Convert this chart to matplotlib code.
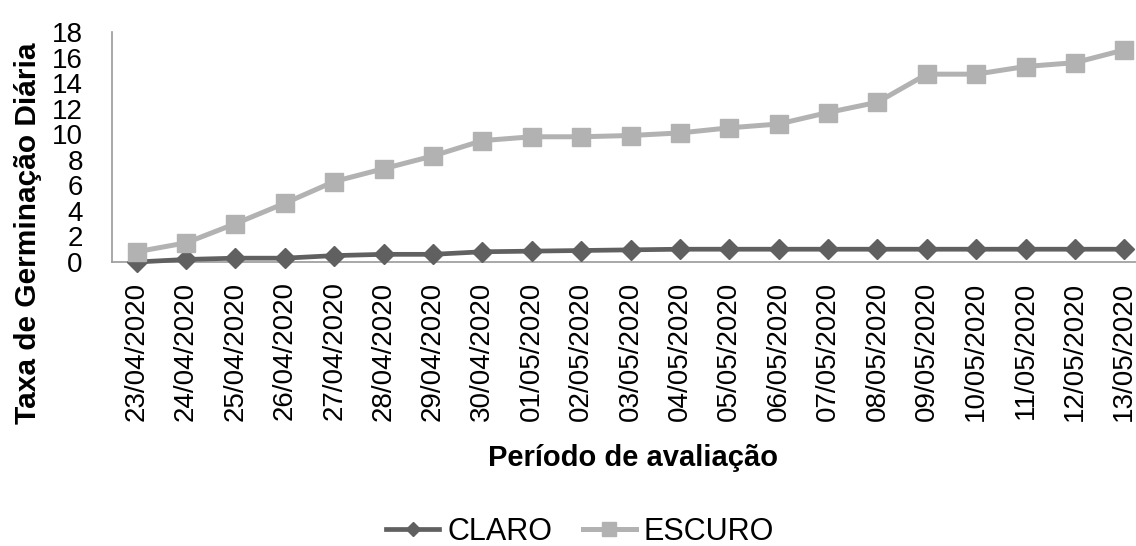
import matplotlib
matplotlib.use("Agg")
import matplotlib.pyplot as plt
from matplotlib.lines import Line2D

plt.rcParams['font.family'] = ['Liberation Sans', 'DejaVu Sans']

# Evaluation dates
datas = ["23/04/2020", "24/04/2020", "25/04/2020", "26/04/2020", "27/04/2020",
         "28/04/2020", "29/04/2020", "30/04/2020", "01/05/2020", "02/05/2020",
         "03/05/2020", "04/05/2020", "05/05/2020", "06/05/2020", "07/05/2020",
         "08/05/2020", "09/05/2020", "10/05/2020", "11/05/2020", "12/05/2020",
         "13/05/2020"]

# Daily germination rate under light / dark conditions
claro = [0.0, 0.2, 0.3, 0.3, 0.5, 0.6, 0.6, 0.8, 0.85, 0.9, 0.95,
         1.0, 1.0, 1.0, 1.0, 1.0, 1.0, 1.0, 1.0, 1.0, 1.0]
escuro = [0.8, 1.5, 3.0, 4.6, 6.3, 7.3, 8.3, 9.5, 9.8, 9.8, 9.9,
          10.1, 10.5, 10.8, 11.7, 12.5, 14.7, 14.7, 15.3, 15.6, 16.6]

y_ticks = list(range(0, 19, 2))

COR_CLARO = '#606060'
COR_ESCURO = '#b2b2b2'
COR_EIXO = '#9a9a9a'

W, H = 1136, 546
fig = plt.figure(figsize=(W / 100, H / 100), dpi=100)
ax = fig.add_axes([112 / W, (H - 262) / H, (1149 - 112) / W, 230 / H])

x = list(range(len(datas)))
ax.plot(x, claro, color=COR_CLARO, lw=3.4, marker='D', ms=10.5,
        mec=COR_CLARO, mfc=COR_CLARO, zorder=3, clip_on=False)
ax.plot(x, escuro, color=COR_ESCURO, lw=3.6, marker='s', ms=13.5,
        mec=COR_ESCURO, mfc=COR_ESCURO, zorder=4, clip_on=False)

ax.set_xlim(-0.5, len(datas) - 0.5)
ax.set_ylim(0, 18)
ax.set_yticks(y_ticks)
ax.set_yticklabels([str(v) for v in y_ticks], fontsize=20)
ax.set_xticks(x)
ax.set_xticklabels(datas, rotation=90, fontsize=20)
ax.tick_params(axis='x', length=0, pad=14)
ax.tick_params(axis='y', length=0, pad=21)

for s in ('top', 'right'):
    ax.spines[s].set_visible(False)
for s in ('left', 'bottom'):
    ax.spines[s].set_color(COR_EIXO)
    ax.spines[s].set_linewidth(1.2)

fig.text(633 / W, 1 - 458 / H, "Período de avaliação", fontsize=21,
         fontweight='bold', ha='center', va='center')
fig.text(28 / W, 1 - 233 / H, "Taxa de Germinação Diária", fontsize=21.5,
         fontweight='bold', ha='center', va='center', rotation=90)

handles = [
    Line2D([], [], color=COR_CLARO, lw=3.4, marker='D', ms=7.5,
           mec=COR_CLARO, mfc=COR_CLARO),
    Line2D([], [], color=COR_ESCURO, lw=3.6, marker='s', ms=10.5,
           mec=COR_ESCURO, mfc=COR_ESCURO),
]
fig.legend(handles, ["CLARO", "ESCURO"], loc='center',
           bbox_to_anchor=(580 / W, 1 - 532 / H), ncol=2, frameon=False,
           fontsize=22, handlelength=1.75, handletextpad=0.25,
           columnspacing=1.0)

fig.savefig("out.png", dpi=100)
